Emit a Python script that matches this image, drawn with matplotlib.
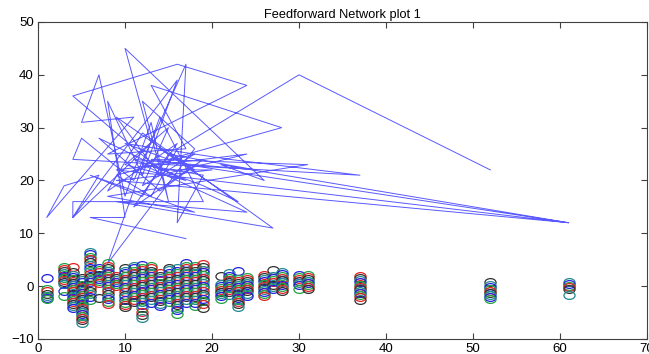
import matplotlib
matplotlib.use('Agg')
import matplotlib.pyplot as plt
from matplotlib.path import Path
from matplotlib.transforms import Affine2D

plt.rcParams['font.family'] = ['Liberation Sans', 'DejaVu Sans']

# network trajectory (blue line)
line_x = [17, 6, 10, 8, 12, 16, 4, 4, 19, 14, 8, 18, 12, 15, 13, 10, 7, 5, 11, 1,
          3, 7, 4, 13, 10, 26, 21, 61, 9, 20, 14, 4, 16, 24, 8, 17, 13, 28, 15, 10,
          22, 37, 4, 5, 11, 17, 16, 19, 12, 20, 24, 9, 27, 16, 9, 14, 24, 9, 20, 61,
          13, 31, 8, 18, 6, 12, 15, 25, 11, 19, 23, 14, 18, 12, 8, 16, 11, 19, 14, 7,
          17, 10, 15, 12, 18, 9, 13, 16, 30, 52]
line_y = [9, 13, 13, 35, 21, 39, 13, 16, 16, 32, 4.3, 26, 35, 16, 31, 17, 40, 31, 32, 13,
          19, 21, 13, 27, 45, 20, 23, 12, 20, 22, 22, 36, 42, 38, 25, 26, 38, 30, 24, 27,
          24, 21, 24, 28, 20, 42, 12, 21, 23, 17, 14, 16, 11, 24, 32, 21, 25, 22, 20, 12,
          24, 23, 17, 14, 21, 17, 25, 22, 24, 19, 16, 26, 22, 29, 18, 27, 15, 24, 18, 28,
          20, 23, 30, 19, 25, 21, 17, 26, 40, 22]

# output samples per input column (circles)
col_x = [1, 3, 4, 5, 6, 7, 8, 9, 10, 11, 12, 13, 14, 15, 16, 17, 18, 19,
         21, 22, 23, 24, 26, 27, 28, 30, 31, 37, 52, 61]
col_y = [
    [1.6, -0.6, -1.0, -1.4, -1.8, -2.2, -2.5],
    [3.6, 3.2, 2.8, 2.4, 2.0, 1.6, 1.2, 0.8, 0.5, -1.0, -1.8],
    [3.7, 2.6, 2.2, 1.8, 1.4, 1.0, 0.6, 0.2, -0.2, -0.6, -1.0, -1.4, -1.8, -2.2, -2.6, -3.0, -3.4, -3.8, -4.2],
    [1.5, 1.1, 0.7, 0.3, -0.1, -0.5, -0.9, -1.3, -1.7, -2.1, -2.5, -2.9, -3.3, -3.7, -4.1, -4.5, -4.9, -5.3, -5.7, -6.1, -6.5, -6.9],
    [6.4, 6.0, 5.6, 5.2, 4.6, 4.0, 3.4, 2.9, 2.3, 1.8, 1.2, 0.7, 0.1, -0.4, -1.0, -1.5, -2.1, -2.6],
    [3.4, 3.0, 2.6, 2.2, 1.8, 1.4, 1.0, 0.6, -2.2],
    [4.4, 3.9, 3.4, 2.9, 2.5, 2.0, 1.5, 1.0, 0.5, 0.0, -0.5, -1.0, -1.5, -2.0, -2.5, -3.0, -3.4],
    [2.0, 1.6, 1.2, 0.8, 0.4, 0.0],
    [3.4, 2.9, 2.4, 1.9, 1.4, 0.9, 0.4, -0.1, -0.6, -1.1, -1.6, -2.1, -2.6, -3.1, -3.6, -3.9],
    [3.9, 3.4, 2.9, 2.4, 1.9, 1.4, 0.9, 0.4, -0.1, -0.6, -1.1, -1.6, -2.1, -2.6, -3.0],
    [4.0, 3.5, 3.0, 2.5, 2.0, 1.5, 1.0, 0.5, 0.0, -0.5, -1.0, -1.5, -2.0, -2.5, -3.0, -3.6, -4.2, -4.8, -5.4, -6.1],
    [3.9, 3.4, 2.9, 2.4, 1.9, 1.4, 0.9, 0.4, -0.1, -0.6, -1.1, -1.6, -2.1, -2.6, -3.1],
    [2.4, 2.0, 1.6, 1.1, 0.6, 0.1, -0.4, -0.9, -1.4, -1.9, -2.4, -2.9, -3.4, -3.7],
    [3.5, 3.0, 2.5, 2.0, 1.5, 1.0, 0.5, 0.0, -0.5, -1.0, -1.5, -2.0, -2.5, -3.0],
    [3.4, 2.9, 2.4, 1.9, 1.4, 0.9, 0.4, -0.1, -0.6, -1.1, -1.6, -2.1, -2.6, -3.1, -3.6, -4.1, -4.6, -5.2],
    [4.4, 3.9, 3.4, 2.9, 2.4, 1.9, 1.4, 0.9, 0.4, -0.1, -0.6, -1.1, -1.6, -2.1, -2.6, -3.1],
    [3.9, 3.4, 2.9, 2.4, 1.9, 1.4, 0.9, 0.4, -0.1, -0.6, -1.1, -1.6, -2.1, -2.6, -3.1, -3.7],
    [4.1, 3.6, 3.1, 2.6, 2.1, 1.6, 1.1, 0.6, 0.1, -0.4, -0.9, -1.4, -1.9, -2.4, -2.9, -3.4, -4.2],
    [1.9, 0.5, 0.1, -0.3, -0.7, -1.1, -1.5, -1.9, -2.4],
    [2.4, 2.0, 1.6, 1.2, 0.8, 0.4, 0.0, -0.4, -0.8, -1.2, -1.7],
    [2.9, 1.4, 1.0, 0.6, 0.2, -0.2, -0.6, -1.0, -1.4, -1.8, -2.2, -2.6, -3.0, -3.4, -3.9],
    [1.8, 1.4, 1.0, 0.6, 0.2, -0.2, -0.6, -1.0, -1.4, -1.9],
    [2.1, 1.7, 1.3, 0.9, 0.5, 0.1, -0.3, -0.7, -1.1, -1.5, -1.9],
    [3.1, 1.9, 1.5, 1.1, 0.7, 0.3, -0.1, -0.6],
    [2.7, 2.3, 1.9, 1.5, 1.1, 0.7, 0.3, -0.1, -0.5, -1.0],
    [2.2, 1.8, 1.4, 1.0, 0.6, 0.2, -0.6],
    [2.2, 1.8, 1.4, 1.0, 0.6, 0.2, -0.2, -0.6],
    [1.9, 1.5, 1.1, 0.7, 0.3, -0.1, -0.5, -0.9, -1.3, -1.7, -2.1, -2.6],
    [0.7, 0.3, -0.1, -0.5, -0.9, -1.3, -1.7, -2.1, -2.4],
    [0.7, 0.4, 0.1, -0.2, -0.5, -1.7],
]

colors = ['#2020e0', '#20a040', '#e02020', '#303030', '#208890']

# flattened ellipse marker, like stretched circles
ellipse = Path.unit_circle().transformed(Affine2D().scale(1.0, 0.7))

fig = plt.figure(figsize=(6.49, 3.54), dpi=100)
ax = fig.add_axes([0.0586, 0.0424, 0.9383, 0.8955])

ax.plot(line_x, line_y, color=(0.35, 0.35, 1.0), lw=0.7)

for i, (x, ys) in enumerate(zip(col_x, col_y)):
    for j, y in enumerate(ys):
        c = colors[(i + j) % len(colors)]
        ax.plot(x, y, marker=ellipse, ms=8, mfc='none', mec=c, mew=0.9)

ax.set_xlim(0, 70)
ax.set_ylim(-10, 50)
ax.set_xticks(range(0, 71, 10))
ax.set_yticks(range(-10, 51, 10))
ax.tick_params(direction='in', length=4, top=True, right=True, labelsize=9.5,
               color='#404040', pad=3)
for s in ax.spines.values():
    s.set_color('#404040')
    s.set_linewidth(0.8)
ax.set_title('Feedforward Network plot 1', fontsize=9.2, pad=3)

fig.savefig('out.png', dpi=100)
